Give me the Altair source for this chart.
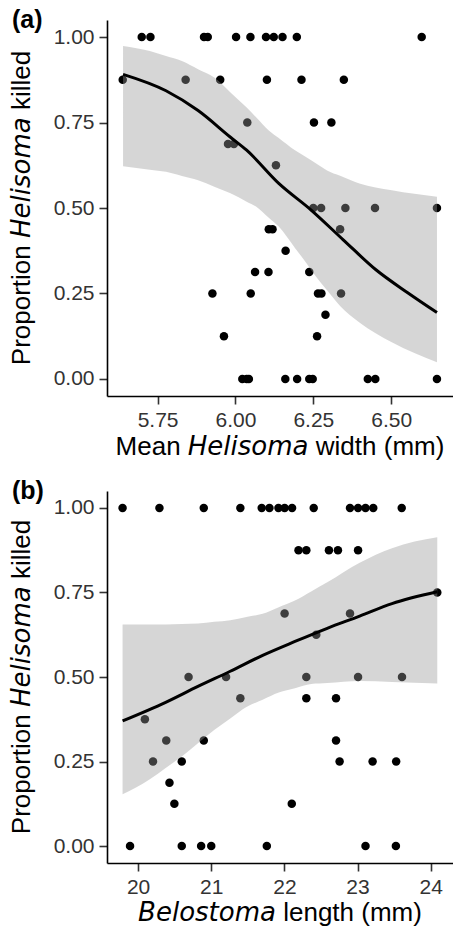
import altair as alt
import pandas as pd
import numpy as np

# ---------------- Panel (a): Helisoma width ----------------
a_y_levels = [1.0, 0.875, 0.75, 0.6875, 0.625, 0.5, 0.4375, 0.375, 0.3125, 0.25, 0.1875, 0.125, 0.0]
a_x_by_level = [
    [5.699, 5.727, 5.899, 5.911, 6.002, 6.048, 6.098, 6.123, 6.151, 6.197, 6.598],
    [5.638, 5.840, 5.951, 6.101, 6.212, 6.348],
    [6.038, 6.252, 6.308],
    [5.976, 5.995],
    [6.130],
    [6.250, 6.275, 6.353, 6.448, 6.647],
    [6.107, 6.119, 6.336],
    [6.161],
    [6.063, 6.106, 6.237],
    [5.926, 6.049, 6.265, 6.276, 6.339],
    [6.289],
    [5.963, 6.262],
    [6.022, 6.036, 6.043, 6.160, 6.198, 6.237, 6.248, 6.425, 6.449, 6.647],
]
a_fit_x = [5.639, 5.777, 5.880, 5.984, 6.036, 6.139, 6.243, 6.346, 6.450, 6.553, 6.647]
a_fit_y = [0.891, 0.843, 0.785, 0.707, 0.669, 0.572, 0.494, 0.407, 0.320, 0.252, 0.194]
a_up_x = [5.639, 5.725, 5.828, 5.932, 6.036, 6.107, 6.191, 6.294, 6.398, 6.502, 6.647]
a_up_y = [0.974, 0.959, 0.930, 0.882, 0.794, 0.727, 0.669, 0.610, 0.572, 0.552, 0.533]
a_lo_x = [5.639, 5.777, 5.880, 5.984, 6.067, 6.139, 6.212, 6.274, 6.336, 6.398, 6.502, 6.647]
a_lo_y = [0.622, 0.606, 0.581, 0.543, 0.504, 0.446, 0.358, 0.281, 0.213, 0.165, 0.107, 0.049]
a_x_ticks = [5.75, 6.00, 6.25, 6.50]

# ---------------- Panel (b): Belostoma length ----------------
b_y_levels = [1.0, 0.875, 0.75, 0.6875, 0.625, 0.5, 0.4375, 0.375, 0.3125, 0.25, 0.1875, 0.125, 0.0]
b_x_by_level = [
    [19.788, 20.292, 20.898, 21.398, 21.690, 21.796, 21.919, 22.003, 22.105, 22.401, 22.897, 23.007, 23.109, 23.215, 23.604],
    [22.193, 22.300, 22.609, 22.732, 23.007],
    [24.09],
    [22.003, 22.897],
    [22.436],
    [20.690, 21.203, 22.300, 23.007, 23.608],
    [21.398, 22.300, 22.706],
    [20.093],
    [20.385, 20.898, 22.706],
    [20.204, 20.597, 22.755, 23.206, 23.528],
    [20.429],
    [20.496, 22.101],
    [19.89, 20.597, 20.862, 21.0, 21.760, 23.109, 23.524],
]
b_fit_x = [19.788, 20.377, 20.818, 21.260, 21.703, 22.145, 22.586, 23.029, 23.471, 24.09]
b_fit_y = [0.370, 0.425, 0.472, 0.517, 0.564, 0.605, 0.644, 0.680, 0.717, 0.752]
b_up_x = [19.788, 20.377, 20.818, 21.260, 21.703, 22.145, 22.586, 23.029, 23.471, 24.09]
b_up_y = [0.655, 0.655, 0.658, 0.668, 0.687, 0.726, 0.780, 0.838, 0.881, 0.913]
b_lo_x = [19.788, 20.155, 20.597, 21.040, 21.481, 21.923, 22.366, 23.029, 24.09]
b_lo_y = [0.153, 0.197, 0.265, 0.343, 0.411, 0.454, 0.479, 0.488, 0.481]
b_x_ticks = [20, 21, 22, 23, 24]

y_ticks = [0.0, 0.25, 0.50, 0.75, 1.00]

W = 346
REG = "Liberation Sans"
ITA = "DejaVu Sans"
FS = 26
YT_X = -85         # centre line of rotated y-axis title


def points_df(levels, xs):
    rows = []
    for lv, xl in zip(levels, xs):
        for v in xl:
            rows.append({"x": v, "y": lv})
    return pd.DataFrame(rows)


def band_df(upx, upy, lox, loy):
    grid = sorted(set(upx) | set(lox))
    hi = np.interp(grid, upx, upy)
    lo = np.interp(grid, lox, loy)
    return pd.DataFrame({"x": grid, "lo": lo, "hi": hi})


def text_layer(t, x, y, font=REG, style="normal", weight="normal", align="center",
               angle=0, baseline="alphabetic", size=FS):
    return alt.Chart(pd.DataFrame({"t": [t]})).mark_text(
        font=font, fontStyle=style, fontWeight=weight, align=align, angle=angle,
        baseline=baseline, fontSize=size, color="black"
    ).encode(text="t:N", x=alt.value(x), y=alt.value(y))


REG_W = {"Mean": 2.501, "width (mm)": 4.95, "length (mm)": 5.334, "Proportion": 4.613, "killed": 2.278}
ITA_W = {"Helisoma": 4.643, "Belostoma": 5.303}


def compose(pieces):
    sp = 0.278 * FS
    out, pos = [], 0.0
    for i, (t, it) in enumerate(pieces):
        w = (ITA_W[t] if it else REG_W[t]) * FS
        out.append((t, it, pos + w / 2))
        pos += w + (sp if i < len(pieces) - 1 else 0)
    return out, pos


def panel(pts, fit, band, xdom, xticks, xfmt, tag, xpieces, H, xt_gap):
    xs = alt.Scale(domain=xdom, nice=False, zero=False)
    ys = alt.Scale(domain=[-0.05, 1.05], nice=False, zero=False)
    xax = alt.Axis(values=xticks, format=xfmt, title=None, grid=False)
    yax = alt.Axis(values=y_ticks, format=".2f", title=None, grid=False)
    p = alt.Chart(pts).mark_circle(size=72, color="black", opacity=1).encode(
        x=alt.X("x:Q", scale=xs, axis=xax), y=alt.Y("y:Q", scale=ys, axis=yax))
    b = alt.Chart(band).mark_area(color="#999999", opacity=0.4, interpolate="monotone").encode(
        x=alt.X("x:Q", scale=xs, axis=xax), y=alt.Y("lo:Q", scale=ys, axis=yax), y2="hi:Q")
    l = alt.Chart(fit).mark_line(color="black", strokeWidth=3, interpolate="monotone").encode(
        x=alt.X("x:Q", scale=xs, axis=xax), y=alt.Y("fit:Q", scale=ys, axis=yax))

    layers = [p, b, l]
    xp, xtot = compose(xpieces)
    x0 = W / 2 - xtot / 2
    for t, it, c in xp:
        layers.append(text_layer(t, x0 + c, H + xt_gap, font=ITA if it else REG,
                                 style="oblique" if it else "normal"))
    yp, ytot = compose([("Proportion", False), ("Helisoma", True), ("killed", False)])
    y0 = H / 2 + ytot / 2
    for t, it, c in yp:
        layers.append(text_layer(t, YT_X, y0 - c, font=ITA if it else REG,
                                 style="oblique" if it else "normal", angle=270, baseline="middle"))
    layers.append(text_layer(tag, -95, 0, weight="bold", baseline="middle", size=25, align="left"))
    return alt.layer(*layers).properties(width=W, height=H)


pa = panel(points_df(a_y_levels, a_x_by_level),
           pd.DataFrame({"x": a_fit_x, "fit": a_fit_y}),
           band_df(a_up_x, a_up_y, a_lo_x, a_lo_y),
           [5.5875, 6.6985], a_x_ticks, ".2f", "(a)",
           [("Mean", False), ("Helisoma", True), ("width (mm)", False)], 376, 59)
pb = panel(points_df(b_y_levels, b_x_by_level),
           pd.DataFrame({"x": b_fit_x, "fit": b_fit_y}),
           band_df(b_up_x, b_up_y, b_lo_x, b_lo_y),
           [19.575, 24.305], b_x_ticks, "d", "(b)",
           [("Belostoma", True), ("length (mm)", False)], 372, 58)

chart = alt.vconcat(pa, pb, spacing=19).properties(
    padding={"left": 0, "top": 0, "right": 0, "bottom": 0}
).configure_view(stroke=None).configure_axis(
    domainColor="black", domainWidth=1.6, tickColor="#333333", tickWidth=1.6, tickSize=8,
    labelPadding=5, labelFont=REG, labelFontSize=21, labelColor="#333333"
)

chart.save("out.html", embed_options={"renderer": "svg", "actions": False})
